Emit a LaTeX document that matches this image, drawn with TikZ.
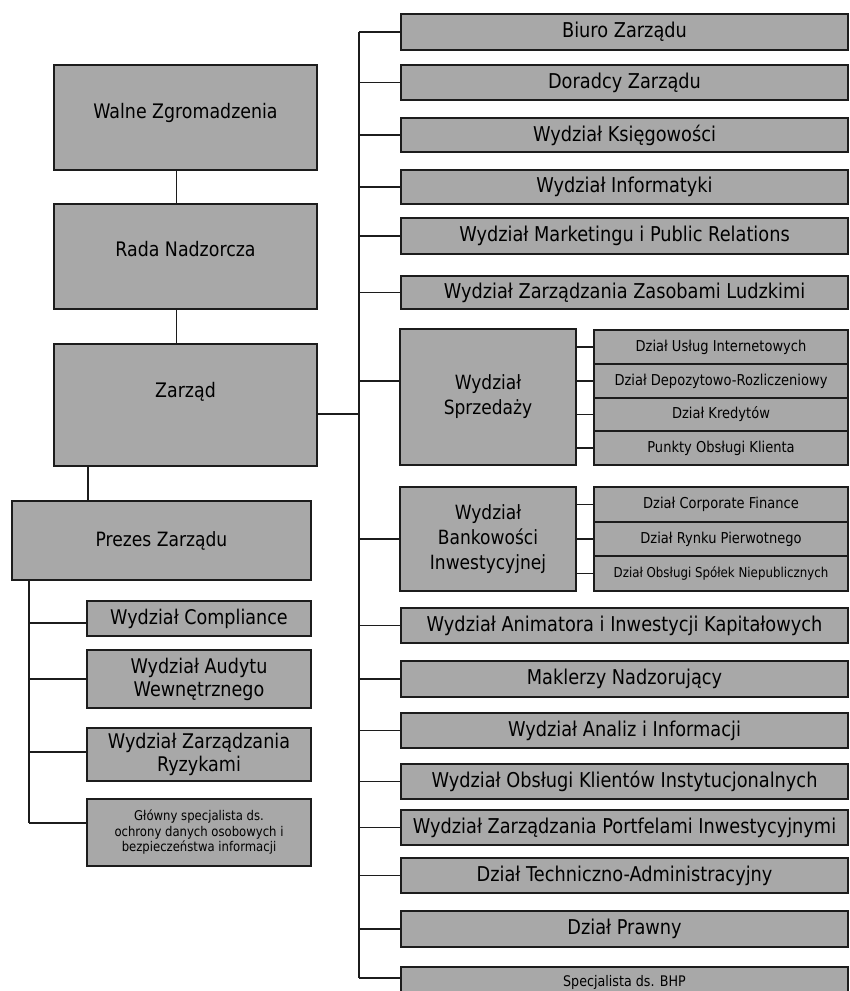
\documentclass[tikz,border=0pt]{standalone}
\usepackage{fontspec}
\setmainfont{DejaVu Sans}[FakeStretch=0.87]
\definecolor{boxfill}{RGB}{168,168,168}
\definecolor{linec}{RGB}{28,28,28}
\newcommand{\upt}[2]{\raisebox{#1}[0pt][0pt]{#2}}
\begin{document}
\begin{tikzpicture}[x=1pt,y=-1pt,
  box/.style={draw=linec, line width=1.8pt, fill=boxfill, inner sep=0pt, outer sep=0pt, align=center, text=black},
  bigbox/.style={box, font=\fontsize{20}{24}\selectfont, minimum width=263pt},
  medbox/.style={box, font=\fontsize{20.2}{23}\selectfont},
  rbox/.style={medbox, minimum width=447pt},
  lbox/.style={medbox, minimum width=224pt},
  dbox/.style={box, font=\fontsize{19.6}{25}\selectfont, minimum width=176pt},
  subbox/.style={box, font=\fontsize{15}{15}\selectfont, minimum width=254pt},
  conn/.style={draw=linec, line width=1.8pt}
]
\useasboundingbox (0,0) rectangle (850,991);

% left column
\node[bigbox, minimum height=105pt] (walne) at (185.5,117.5) {\upt{-1pt}{Walne Zgromadzenia}};
\node[bigbox, minimum height=105pt] (rada) at (185.5,256.5) {\upt{0pt}{Rada Nadzorcza}};
\node[bigbox, minimum height=122pt] (zarzad) at (185.5,405) {\upt{7.5pt}{Zarząd}};
\node[medbox, font=\fontsize{19.7}{23}\selectfont, minimum width=299pt, minimum height=79pt] (prezes) at (161.5,540.5) {Prezes Zarządu};
\node[lbox, minimum height=35pt] (comp) at (199,618.5) {Wydział Compliance};
\node[lbox, minimum height=58pt] (audyt) at (199,679) {Wydział Audytu\\Wewnętrznego};
\node[lbox, minimum height=53pt] (ryzyk) at (199,754.5) {Wydział Zarządzania\\Ryzykami};
\node[box, font=\fontsize{13.4}{15.5}\selectfont, minimum width=224pt, minimum height=67pt] (glowny) at (199,832.5) {Główny specjalista ds.\\ochrony danych osobowych i\\bezpieczeństwa informacji};

% right column
\node[rbox, font=\fontsize{20.4}{24}\selectfont, minimum height=36pt] (biuro) at (624.5,32) {Biuro Zarządu};
\node[rbox, font=\fontsize{20.4}{24}\selectfont, minimum height=35pt] (doradcy) at (624.5,82.5) {Doradcy Zarządu};
\node[rbox, font=\fontsize{20.4}{24}\selectfont, minimum height=34pt] (ksieg) at (624.5,135) {Wydział Księgowości};
\node[rbox, font=\fontsize{20.4}{24}\selectfont, minimum height=34pt] (inform) at (624.5,187) {Wydział Informatyki};
\node[rbox, font=\fontsize{20.4}{24}\selectfont, minimum height=36pt] (market) at (624.5,236) {Wydział Marketingu i Public Relations};
\node[rbox, font=\fontsize{20.4}{24}\selectfont, minimum height=33pt] (zasoby) at (624.5,292.5) {Wydział Zarządzania Zasobami Ludzkimi};
\node[dbox, minimum height=136pt] (sprz) at (488,397) {Wydział\\Sprzedaży};
\node[dbox, minimum height=104pt] (bank) at (488,539) {Wydział\\Bankowości\\Inwestycyjnej};
\node[subbox, minimum height=34pt] (s1) at (721,347) {Dział Usług Internetowych};
\node[subbox, minimum height=34pt] (s2) at (721,381) {Dział Depozytowo-Rozliczeniowy};
\node[subbox, minimum height=33pt] (s3) at (721,414.5) {Dział Kredytów};
\node[subbox, minimum height=34pt] (s4) at (721,448) {Punkty Obsługi Klienta};
\node[subbox, minimum height=35pt] (b1) at (721,504.5) {Dział Corporate Finance};
\node[subbox, minimum height=34pt] (b2) at (721,539) {Dział Rynku Pierwotnego};
\node[subbox, minimum height=35pt, font=\fontsize{13.6}{15}\selectfont] (b3) at (721,573.5) {Dział Obsługi Spółek Niepublicznych};
\node[rbox, font=\fontsize{20.4}{24}\selectfont, minimum height=35pt] (anim) at (624.5,625.5) {Wydział Animatora i Inwestycji Kapitałowych};
\node[rbox, font=\fontsize{20.4}{24}\selectfont, minimum height=36pt] (makl) at (624.5,679) {Maklerzy Nadzorujący};
\node[rbox, font=\fontsize{20.4}{24}\selectfont, minimum height=35pt] (analiz) at (624.5,730.5) {Wydział Analiz i Informacji};
\node[rbox, font=\fontsize{20.4}{24}\selectfont, minimum height=35pt] (obsl) at (624.5,781.5) {Wydział Obsługi Klientów Instytucjonalnych};
\node[rbox, font=\fontsize{20.4}{24}\selectfont, minimum height=35pt] (portf) at (624.5,827.5) {Wydział Zarządzania Portfelami Inwestycyjnymi};
\node[rbox, font=\fontsize{20.4}{24}\selectfont, minimum height=35pt] (techn) at (624.5,875.5) {Dział Techniczno-Administracyjny};
\node[rbox, font=\fontsize{20.4}{24}\selectfont, minimum height=36pt] (prawny) at (624.5,929) {Dział Prawny};
\node[rbox, minimum height=31pt, font=\fontsize{14.6}{15}\selectfont] (bhp) at (624.5,982.5) {Specjalista ds. BHP};

% connection points
\coordinate (lx) at (29,0);
\coordinate (bx) at (359,0);
\coordinate (gc) at ([yshift=9.5pt]glowny.west);
\coordinate (cc) at ([yshift=-4.5pt]comp.west);
\coordinate (rc) at ([yshift=2.5pt]ryzyk.west);
\coordinate (hc) at ([yshift=4.5pt]bhp.west);
\coordinate (zc) at ([yshift=-9pt]zarzad.east);
\coordinate (sc) at ([yshift=16pt]sprz.west);

% left connectors
\draw[conn] ([xshift=-9pt]walne.south) -- ([xshift=-9pt]rada.north);
\draw[conn] ([xshift=-9pt]rada.south) -- ([xshift=-9pt]zarzad.north);
\draw[conn] ([xshift=-97.5pt]zarzad.south) -- ([xshift=-73.5pt]prezes.north);
\draw[conn] (prezes.south -| lx) -- (lx |- gc);
\draw[conn] (lx |- cc) -- (cc);
\draw[conn] (lx |- audyt.west) -- (audyt.west);
\draw[conn] (lx |- rc) -- (rc);
\draw[conn] (lx |- gc) -- (gc);

% bus
\draw[conn] (bx |- biuro.west) -- (bx |- hc);
\draw[conn] (zc) -- (bx |- zc);
\foreach \n in {biuro,doradcy,ksieg,inform,market,zasoby,bank,anim,makl,analiz,obsl,portf,techn,prawny}
  \draw[conn] (bx |- \n.west) -- (\n.west);
\draw[conn] (bx |- sc) -- (sc);
\draw[conn] (bx |- hc) -- (hc);

% sub connectors
\foreach \n in {s1,s2,s3,s4}
  \draw[conn] (sprz.east |- \n.west) -- (\n.west);
\foreach \n in {b1,b2,b3}
  \draw[conn] (bank.east |- \n.west) -- (\n.west);
\end{tikzpicture}
\end{document}
